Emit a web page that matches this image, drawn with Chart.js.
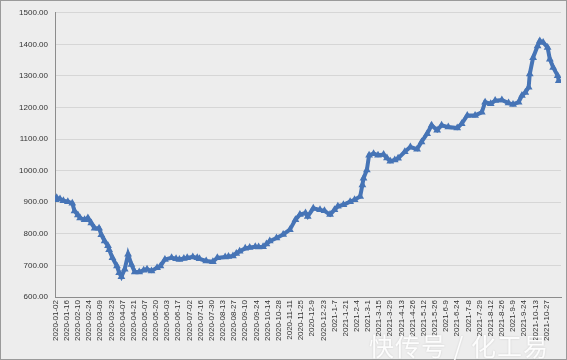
<!DOCTYPE html>
<html>
<head>
<meta charset="utf-8">
<script src="https://cdn.jsdelivr.net/npm/chart.js@4"></script>
<style>
  html, body { margin: 0; padding: 0; background: #fff; }
  #wrap { position: relative; width: 565px; height: 358px; border: 1px solid #9a9a9a; background: #ededed; }
  #mark { position: absolute; left: 368px; top: 326px; font-family: "Noto Sans CJK SC"; font-size: 25px; color: rgba(255,255,255,0.92); letter-spacing: 1px; white-space: nowrap; text-shadow: 0 0 2px rgba(0,0,0,0.15); }
</style>
</head>
<body>
<div id="wrap">
  <canvas id="chartPrecio" width="565" height="358"></canvas>
  <div id="mark">快传号 / 化工易</div>
</div>
<script>
// etiquetas del eje x (una cada 10 dias habiles)
const tickLabels = [
    '2020-01-02', '2020-01-16', '2020-02-10', '2020-02-24', '2020-03-09', '2020-03-23',
    '2020-04-07', '2020-04-21', '2020-05-07', '2020-05-20', '2020-06-03', '2020-06-17',
    '2020-07-02', '2020-07-16', '2020-07-30', '2020-08-13', '2020-08-27', '2020-09-10',
    '2020-09-24', '2020-10-14', '2020-10-28', '2020-11-11', '2020-11-25', '2020-12-9',
    '2020-12-23', '2021-1-7', '2021-1-21', '2021-2-4', '2021-3-1', '2021-3-15',
    '2021-3-29', '2021-4-13', '2021-4-26', '2021-5-12', '2021-5-26', '2021-6-9',
    '2021-6-24', '2021-7-8', '2021-7-29', '2021-8-12', '2021-8-26', '2021-9-9',
    '2021-9-24', '2021-10-13', '2021-10-27'
];

// dia habil (indice) y precio
const dayIndex = [
    0, 1, 4, 7, 11, 15, 17, 20, 22, 26, 29, 32, 35, 39, 41, 44, 47, 48, 51, 55,
    57, 59, 62, 65, 68, 71, 75, 79, 82, 86, 91, 94, 98, 104, 108, 111, 115, 118, 123, 127,
    129, 135, 141, 145, 152, 155, 159, 162, 165, 170, 174, 179, 182, 186, 189, 192, 198, 204, 210, 215,
    219, 224, 226, 231, 237, 241, 246, 250, 253, 258, 264, 268, 273, 275, 276, 279, 281, 285, 289, 294,
    297, 300, 304, 307, 313, 318, 324, 328, 333, 337, 342, 346, 352, 360, 364, 369, 376, 382, 385, 390,
    394, 400, 406, 410, 415, 418, 421, 424, 425, 428, 432, 434, 437, 441, 443, 446, 450, 451
];
const prices = [
    908, 914, 910, 905, 902, 897, 872, 860, 850, 845, 850, 834, 818, 818, 797, 777, 762, 750, 724, 698,
    677, 664, 688, 735, 703, 679, 679, 685, 688, 682, 693, 698, 719, 724, 721, 719, 722, 724, 727, 724,
    721, 714, 712, 724, 727, 728, 730, 738, 745, 754, 757, 759, 758, 759, 768, 777, 787, 798, 813, 845,
    861, 866, 855, 881, 876, 873, 861, 876, 887, 892, 902, 908, 918, 955, 976, 1002, 1049, 1054, 1049, 1051,
    1040, 1030, 1034, 1039, 1060, 1075, 1068, 1091, 1117, 1144, 1128, 1144, 1138, 1135, 1149, 1175, 1175, 1185, 1217, 1212,
    1222, 1224, 1214, 1210, 1217, 1238, 1248, 1264, 1306, 1358, 1395, 1411, 1406, 1390, 1353, 1327, 1301, 1285
];

const colorLinea = '#4674b6';

const puntos = dayIndex.map((d, k) => ({ x: d, y: prices[k] }));

const ctx = document.getElementById('chartPrecio').getContext('2d');
const chartPrecio = new Chart(ctx, {
    type: 'line',
    data: {
        datasets: [{
            label: '价格',
            data: puntos,
            borderColor: colorLinea,
            backgroundColor: colorLinea,
            borderWidth: 4,
            pointStyle: 'triangle',
            pointRadius: 4.5,
            pointBorderWidth: 0,
            tension: 0
        }]
    },
    options: {
        responsive: false,
        animation: false,
        layout: { padding: { left: 4, right: 5, top: 8, bottom: 0 } },
        plugins: {
            legend: { display: false },
            tooltip: { enabled: false }
        },
        scales: {
            x: {
                type: 'linear',
                min: -0.5,
                max: 453,
                afterBuildTicks: function(scale) {
                    scale.ticks = tickLabels.map((l, k) => ({ value: k * 10 }));
                },
                afterFit: function(scale) { scale.height = 62; },
                grid: { display: false, drawTicks: false },
                border: { color: '#8c8c8c', width: 1 },
                ticks: {
                    autoSkip: false,
                    minRotation: 90,
                    maxRotation: 90,
                    padding: 3,
                    color: '#333',
                    font: { family: 'Liberation Sans', size: 8 },
                    callback: function(value) {
                        return tickLabels[Math.round(value / 10)];
                    }
                }
            },
            y: {
                min: 600,
                max: 1500,
                afterFit: function(scale) { scale.width = 50; },
                grid: { color: '#d6d6d6', drawTicks: false },
                border: { color: '#8c8c8c', width: 1 },
                ticks: {
                    stepSize: 100,
                    padding: 7,
                    color: '#333',
                    font: { family: 'Liberation Sans', size: 8 },
                    callback: function(value) {
                        return value.toFixed(2);  // formato 1500.00
                    }
                }
            }
        }
    }
});
</script>
</body>
</html>
